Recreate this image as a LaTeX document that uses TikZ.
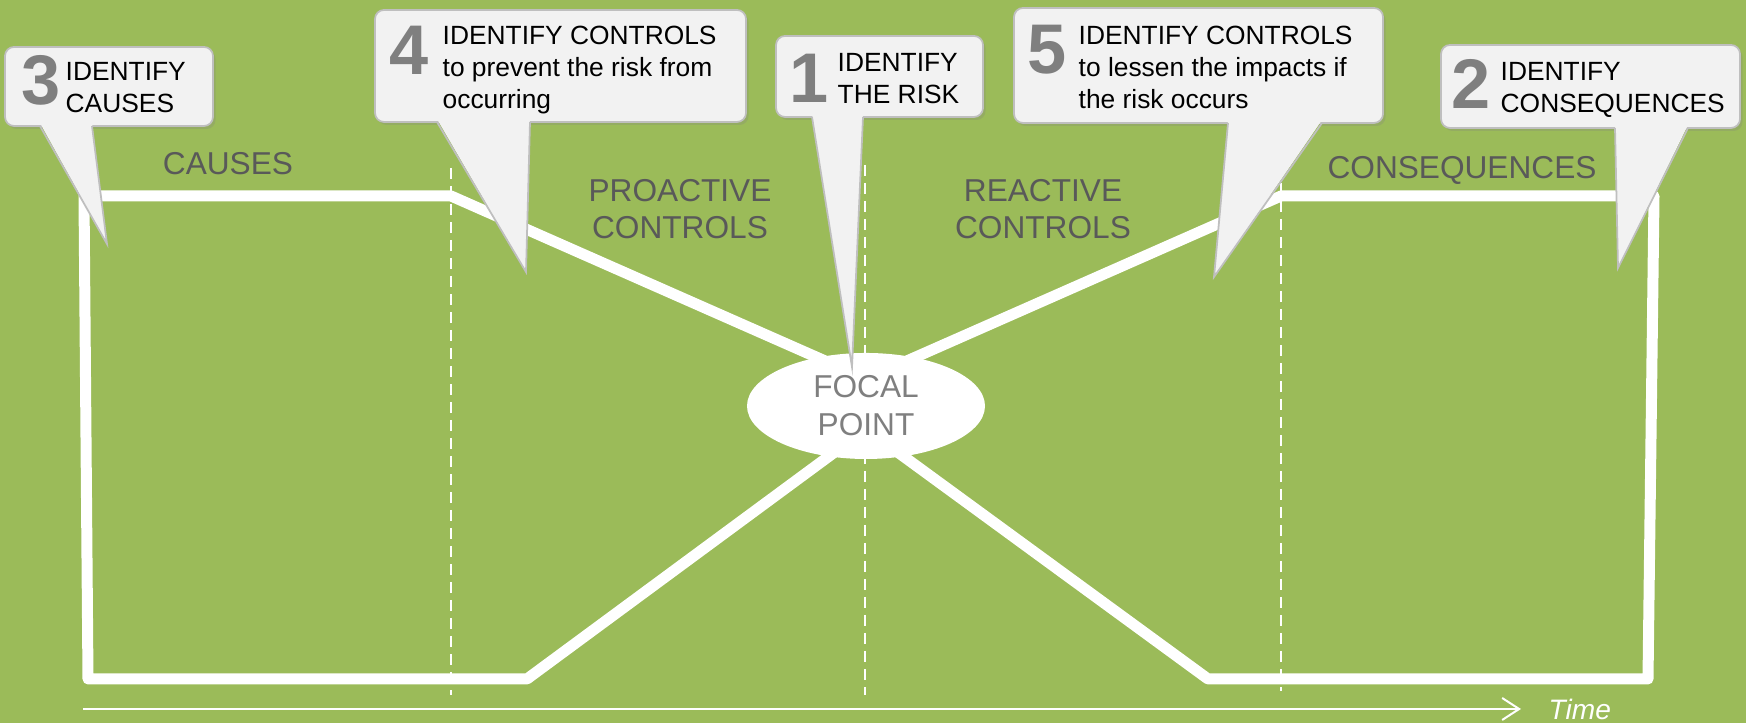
\documentclass[tikz,border=0pt]{standalone}
\usepackage{fontspec}
\setmainfont{Liberation Sans}
\usetikzlibrary{arrows.meta,shapes.geometric,shadows}

\definecolor{bggreen}{HTML}{9BBB59}
\definecolor{labelgray}{HTML}{595959}
\definecolor{numgray}{HTML}{7F7F7F}
\definecolor{boxfill}{HTML}{F2F2F2}
\definecolor{boxline}{HTML}{BFBFBF}

\tikzset{
  bowtie/.style={white, line width=0.11cm, line join=round},
  divider/.style={white, line width=0.02cm, dash pattern=on 0.11cm off 0.07cm},
  zone/.style={text=labelgray, align=center, font=\fontsize{9}{10.6}\selectfont},
  callbox/.style={draw=boxline, fill=boxfill, line width=0.5pt, rounded corners=0.09cm,
    inner sep=0pt, outer sep=0pt,
    drop shadow={shadow xshift=0.025cm, shadow yshift=-0.03cm, opacity=0.25}},
  calledge/.style={draw=boxline, line width=0.5pt, line join=miter},
  bignum/.style={text=numgray, inner sep=0pt, font=\fontsize{20}{20}\selectfont\bfseries},
  calltext/.style={anchor=north west, inner sep=0pt, align=left, font=\fontsize{7.5}{9.1}\selectfont},
  timeline/.style={white, line width=0.02cm, -{Straight Barb[length=0.17cm,width=0.22cm]}, shorten >=0.27cm},
  timelabel/.style={anchor=west, inner sep=0pt, text=white, font=\fontsize{8}{8}\selectfont\itshape}
}

\begin{document}
\begin{tikzpicture}
    % background
    \path[use as bounding box, fill=bggreen] (0,0) rectangle (17.46,7.23);

    % dashed dividers
    \draw[divider] (4.51,5.55) -- (4.51,0.28);
    \draw[divider] (8.65,5.58) -- (8.65,0.28);
    \draw[divider] (12.81,5.40) -- (12.81,0.32);

    % the lines meet under the focal point
    \coordinate (hubtop) at (8.66,3.44);
    \coordinate (hubbot) at (8.66,2.94);

    % white outline, left half and right half
    \draw[bowtie] (hubtop) -- (4.51,5.27) -- (0.84,5.27) -- (0.88,0.44) -- (5.27,0.44) -- (hubbot) -- cycle;
    \draw[bowtie] (hubtop) -- (12.81,5.27) -- (16.54,5.27) -- (16.48,0.44) -- (12.08,0.44) -- (hubbot) -- cycle;

    % focal point
    \node[ellipse, fill=white, minimum width=2.38cm, minimum height=1.06cm, inner sep=0pt,
          text=numgray, align=center, font=\fontsize{9}{10.8}\selectfont] (focal) at (8.66,3.17) {FOCAL\\POINT};

    % zone labels
    \node[zone] (causes) at (2.28,5.59) {CAUSES};
    \node[zone] (proactive) at (6.80,5.14) {PROACTIVE\\CONTROLS};
    \node[zone] (reactive) at (10.43,5.14) {REACTIVE\\CONTROLS};
    \node[zone] (conseq) at (14.62,5.53) {CONSEQUENCES};

    % time axis
    \node[timelabel] (timelbl) at (15.48,0.14) {Time};
    \coordinate (tstart) at (0.83,0.14);
    \draw[timeline] (tstart) -- (timelbl.west);

    % callout 3
    \node[callbox, minimum width=2.08cm, minimum height=0.79cm] (box3) at (1.09,6.365) {};
    \coordinate (tip3) at (1.07,4.79);
    \fill[boxfill] ([xshift=0.35cm,yshift=0.03cm]box3.south west) -- (tip3) -- ([xshift=0.87cm,yshift=0.03cm]box3.south west) -- cycle;
    \draw[calledge] ([xshift=0.35cm]box3.south west) -- (tip3) -- ([xshift=0.87cm]box3.south west);
    \node[bignum] (num3) at (0.41,6.43) {3};
    \node[calltext] (text3) at (0.65,6.61) {IDENTIFY\\CAUSES};

    % callout 4
    \node[callbox, minimum width=3.71cm, minimum height=1.12cm] (box4) at (5.605,6.57) {};
    \coordinate (tip4) at (5.26,4.51);
    \fill[boxfill] ([xshift=0.62cm,yshift=0.03cm]box4.south west) -- (tip4) -- ([xshift=1.55cm,yshift=0.03cm]box4.south west) -- cycle;
    \draw[calledge] ([xshift=0.62cm]box4.south west) -- (tip4) -- ([xshift=1.55cm]box4.south west);
    \node[bignum] (num4) at (4.09,6.73) {4};
    \node[calltext] (text4) at (4.42,6.98) {IDENTIFY CONTROLS\\to prevent the risk from\\occurring};

    % callout 1
    \node[callbox, minimum width=2.07cm, minimum height=0.81cm] (box1) at (8.795,6.465) {};
    \coordinate (tip1) at (8.52,3.56);
    \fill[boxfill] ([xshift=0.36cm,yshift=0.03cm]box1.south west) -- (tip1) -- ([xshift=0.87cm,yshift=0.03cm]box1.south west) -- cycle;
    \draw[calledge] ([xshift=0.36cm]box1.south west) -- (tip1) -- ([xshift=0.87cm]box1.south west);
    \node[bignum] (num1) at (8.09,6.45) {1};
    \node[calltext] (text1) at (8.37,6.70) {IDENTIFY\\THE RISK};

    % callout 5
    \node[callbox, minimum width=3.69cm, minimum height=1.15cm] (box5) at (11.985,6.575) {};
    \coordinate (tip5) at (12.14,4.46);
    \fill[boxfill] ([xshift=2.14cm,yshift=0.03cm]box5.south west) -- (tip5) -- ([xshift=3.08cm,yshift=0.03cm]box5.south west) -- cycle;
    \draw[calledge] ([xshift=2.14cm]box5.south west) -- (tip5) -- ([xshift=3.08cm]box5.south west);
    \node[bignum] (num5) at (10.47,6.73) {5};
    \node[calltext] (text5) at (10.78,6.98) {IDENTIFY CONTROLS\\to lessen the impacts if\\the risk occurs};

    % callout 2
    \node[callbox, minimum width=2.99cm, minimum height=0.83cm] (box2) at (15.905,6.365) {};
    \coordinate (tip2) at (16.18,4.55);
    \fill[boxfill] ([xshift=1.74cm,yshift=0.03cm]box2.south west) -- (tip2) -- ([xshift=2.47cm,yshift=0.03cm]box2.south west) -- cycle;
    \draw[calledge] ([xshift=1.74cm]box2.south west) -- (tip2) -- ([xshift=2.47cm]box2.south west);
    \node[bignum] (num2) at (14.71,6.39) {2};
    \node[calltext] (text2) at (15.00,6.61) {IDENTIFY\\CONSEQUENCES};
\end{tikzpicture}
\end{document}
